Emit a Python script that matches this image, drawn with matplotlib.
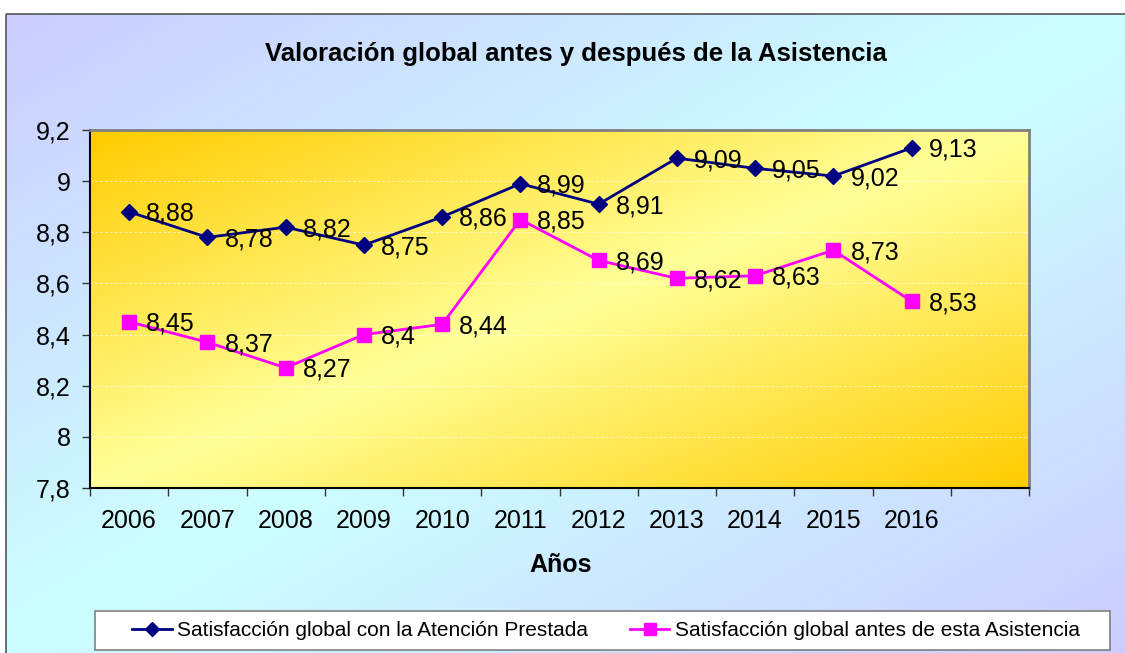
import matplotlib
matplotlib.use("Agg")
import matplotlib.pyplot as plt
import numpy as np
from matplotlib.colors import LinearSegmentedColormap
from matplotlib.patches import Rectangle
from matplotlib.lines import Line2D

plt.rcParams['font.family'] = ['Liberation Sans', 'DejaVu Sans']

years = ['2006', '2007', '2008', '2009', '2010', '2011',
         '2012', '2013', '2014', '2015', '2016']
atencion = [8.88, 8.78, 8.82, 8.75, 8.86, 8.99, 8.91, 9.09, 9.05, 9.02, 9.13]
antes = [8.45, 8.37, 8.27, 8.40, 8.44, 8.85, 8.69, 8.62, 8.63, 8.73, 8.53]
label_atencion = 'Satisfacción global con la Atención Prestada'
label_antes = 'Satisfacción global antes de esta Asistencia'
y_ticks = [7.8, 8.0, 8.2, 8.4, 8.6, 8.8, 9.0, 9.2]

W, H = 1125, 653


def fmt(v):
    s = ('%.2f' % v).rstrip('0').rstrip('.')
    return s.replace('.', ',')


def diag_gradient(c_edge, c_mid, n=300):
    """Diagonal gradient: edge colour at two corners, mid colour on the anti-diagonal."""
    u = np.linspace(0, 1, n)
    uu, vv = np.meshgrid(u, u)
    t = (uu + vv) / 2.0
    t = 1 - np.abs(t - 0.5) * 2
    cmap = LinearSegmentedColormap.from_list('g', [c_edge, c_mid])
    return cmap(t)


fig = plt.figure(figsize=(W / 100, H / 100), dpi=100)

# background of the chart area
bg = fig.add_axes([0, 0, 1, 1])
bg.axis('off')
bg.imshow(diag_gradient('#CCCCFF', '#CCFFFF'), extent=(6, W, H, 14),
          aspect='auto', zorder=0, interpolation='bilinear')
bg.add_patch(Rectangle((6, 14), W, H, fill=False, edgecolor='#555555', lw=1.2, zorder=1))
bg.add_patch(Rectangle((95, 611), 1015, 39, facecolor='white', edgecolor='#808080',
                       lw=1.2, zorder=2))
bg.set_xlim(0, W)
bg.set_ylim(H, 0)

# plot area
left, right, top, bottom = 90, 1029, 130, 488
ax = fig.add_axes([left / W, (H - bottom) / H, (right - left) / W, (bottom - top) / H])
ax.imshow(diag_gradient('#FFCC00', '#FFFF99'), extent=(0, 1, 0, 1),
          transform=ax.transAxes, aspect='auto', zorder=0, interpolation='bilinear')

x = np.arange(len(years))
ax.plot(x, atencion, color='#000080', lw=2, marker='D', ms=8, zorder=3)
ax.plot(x, antes, color='#FF00FF', lw=2, marker='s', ms=10, zorder=3)

for xi, v in zip(x, atencion):
    ax.annotate(fmt(v), (xi, v), xytext=(17, -2), textcoords='offset pixels',
                ha='left', va='center', fontsize=18, zorder=4)
for xi, v in zip(x, antes):
    ax.annotate(fmt(v), (xi, v), xytext=(17, -2), textcoords='offset pixels',
                ha='left', va='center', fontsize=18, zorder=4)

ax.set_xlim(-0.5, 11.5)
ax.set_ylim(7.8, 9.2)
ax.set_yticks(y_ticks)
ax.set_yticklabels([fmt(v) for v in y_ticks], fontsize=18)
ax.set_xticks(np.arange(-0.5, 12, 1))
ax.set_xticklabels([])
ax.set_xticks(x, minor=True)
ax.set_xticklabels(years, minor=True, fontsize=18)
ax.tick_params(axis='x', which='major', length=6, width=1, color='#333333')
ax.tick_params(axis='x', which='minor', length=0, pad=15)
ax.tick_params(axis='y', length=6, width=1, color='#333333', pad=8)
for yv in y_ticks[1:-1]:
    ax.axhline(yv, color='white', lw=0.7, ls=(0, (3, 2)), alpha=0.55, zorder=1)

for s in ['left', 'bottom']:
    ax.spines[s].set_color('black')
    ax.spines[s].set_linewidth(1.5)
for s in ['top', 'right']:
    ax.spines[s].set_color('#808080')
    ax.spines[s].set_linewidth(2)

fig.text(576 / W, 1 - 54 / H, 'Valoración global antes y después de la Asistencia',
         ha='center', va='center', fontsize=18.5, fontweight='bold')
fig.text(561 / W, 1 - 565 / H, 'Años', ha='center', va='center',
         fontsize=18, fontweight='bold')

handles = [Line2D([], [], color='#000080', lw=2, marker='D', ms=7),
           Line2D([], [], color='#FF00FF', lw=2, marker='s', ms=8)]
fig.legend(handles, [label_atencion, label_antes], loc='center',
           bbox_to_anchor=(606 / W, 1 - 631 / H), ncol=2, frameon=False,
           fontsize=15, handlelength=1.9, handletextpad=0.25, columnspacing=2.0)

fig.savefig('out.png', dpi=100)
